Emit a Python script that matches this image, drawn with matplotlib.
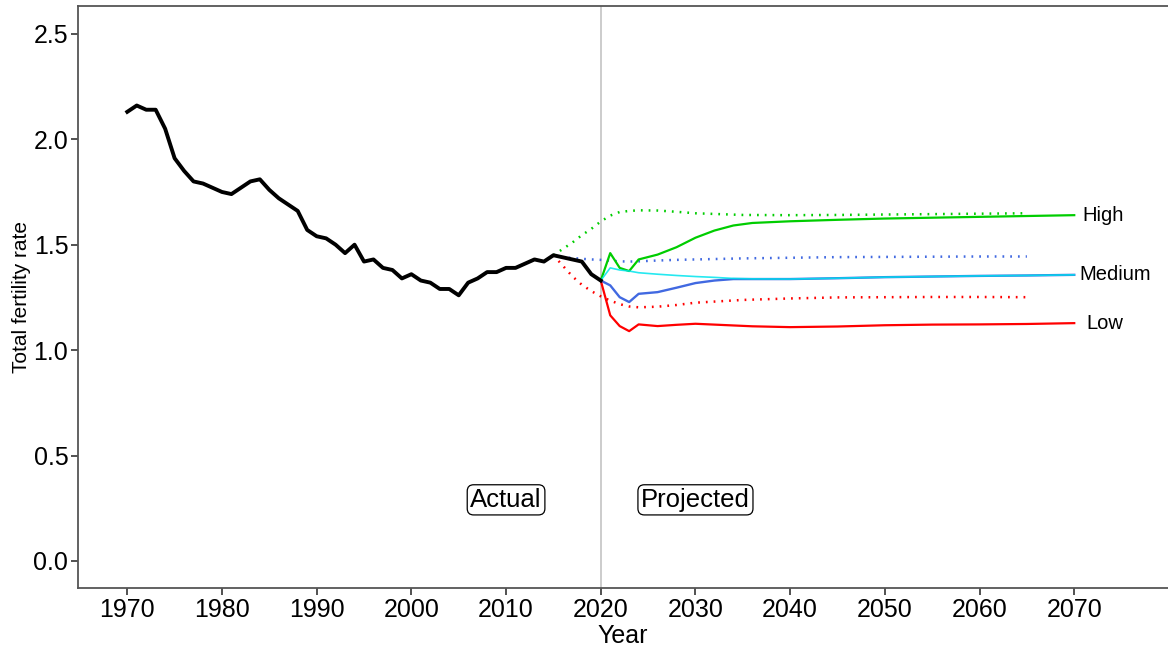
import numpy as np
import matplotlib
matplotlib.use("Agg")
import matplotlib.pyplot as plt

plt.rcParams['font.family'] = ['Liberation Sans', 'DejaVu Sans']

# actual total fertility rate
years_actual = list(range(1970, 2021))
tfr_actual = [2.13, 2.16, 2.14, 2.14, 2.05, 1.91, 1.85, 1.80, 1.79, 1.77,
              1.75, 1.74, 1.77, 1.80, 1.81, 1.76, 1.72, 1.69, 1.66, 1.57,
              1.54, 1.53, 1.50, 1.46, 1.50, 1.42, 1.43, 1.39, 1.38, 1.34,
              1.36, 1.33, 1.32, 1.29, 1.29, 1.26, 1.32, 1.34, 1.37, 1.37,
              1.39, 1.39, 1.41, 1.43, 1.42, 1.45, 1.44, 1.43, 1.42, 1.36,
              1.33]

# new projections (solid), 2020-2070
years_proj = [2020, 2021, 2022, 2023, 2024, 2026, 2028, 2030, 2032, 2034,
              2036, 2040, 2045, 2050, 2055, 2060, 2065, 2070]
high_proj = [1.33, 1.46, 1.39, 1.375, 1.43, 1.453, 1.488, 1.533, 1.567, 1.591,
             1.603, 1.611, 1.618, 1.624, 1.628, 1.632, 1.636, 1.64]
medium_proj = [1.33, 1.307, 1.251, 1.228, 1.267, 1.275, 1.296, 1.318, 1.330, 1.337,
               1.337, 1.337, 1.341, 1.346, 1.349, 1.352, 1.354, 1.357]
medium2_proj = [1.33, 1.39, 1.38, 1.375, 1.367, 1.36, 1.354, 1.349, 1.345, 1.340,
                1.338, 1.337, 1.341, 1.346, 1.349, 1.352, 1.354, 1.357]
low_proj = [1.33, 1.165, 1.114, 1.09, 1.122, 1.114, 1.12, 1.125, 1.121, 1.117,
            1.113, 1.109, 1.112, 1.118, 1.121, 1.122, 1.124, 1.128]

# previous projections (dotted), 2015-2065
years_old = [2015, 2016, 2017, 2018, 2019, 2020, 2021, 2022, 2023, 2024,
             2026, 2028, 2030, 2035, 2040, 2045, 2050, 2055, 2060, 2065]
high_old = [1.45, 1.48, 1.51, 1.545, 1.575, 1.61, 1.638, 1.655, 1.66, 1.663,
            1.662, 1.656, 1.649, 1.641, 1.64, 1.641, 1.643, 1.645, 1.647, 1.649]
medium_old = [1.45, 1.44, 1.437, 1.433, 1.43, 1.428, 1.424, 1.421, 1.42, 1.421,
              1.425, 1.428, 1.43, 1.435, 1.438, 1.441, 1.442, 1.443, 1.444, 1.444]
low_old = [1.45, 1.40, 1.35, 1.31, 1.28, 1.255, 1.235, 1.218, 1.207, 1.203,
           1.206, 1.214, 1.225, 1.238, 1.245, 1.25, 1.251, 1.252, 1.252, 1.251]

green = '#00cd00'
blue = '#4169e1'
cyan = '#00e5ee'
red = '#ff0000'

fig = plt.figure(figsize=(11.68, 6.5), dpi=100)
ax = fig.add_axes([0.0668, 0.0954, 0.9332, 0.8954])

ax.axvline(2020, color='#c8c8c8', lw=1.3, zorder=1)

# dotted (previous)
dots = (0, (0.7, 2.4))
ax.plot(years_old, high_old, color=green, lw=1.8, ls=dots, zorder=2)
ax.plot(years_old, medium_old, color=blue, lw=1.8, ls=dots, zorder=2)
ax.plot(years_old, low_old, color=red, lw=1.8, ls=dots, zorder=2)

# solid (new)
ax.plot(years_proj, high_proj, color=green, lw=1.6, zorder=3)
ax.plot(years_proj, medium_proj, color=blue, lw=1.7, zorder=3)
ax.plot(years_proj, medium2_proj, color=cyan, lw=1.2, alpha=0.85, zorder=3)
ax.plot(years_proj, low_proj, color=red, lw=1.6, zorder=3)

ax.plot(years_actual, tfr_actual, color='black', lw=2.8, zorder=4)

# series labels
ax.text(2070.85, high_proj[-1], 'High', fontsize=14.5, va='center', ha='left')
ax.text(2070.5, medium_proj[-1], 'Medium', fontsize=14.5, va='center', ha='left')
ax.text(2071.3, low_proj[-1], 'Low', fontsize=14.5, va='center', ha='left')

box = dict(boxstyle='round,pad=0.12,rounding_size=0.25', fc='white', ec='black', lw=0.9)
ax.text(2010, 0.29, 'Actual', fontsize=18.5, ha='center', va='center', bbox=box)
ax.text(2030, 0.29, 'Projected', fontsize=18.5, ha='center', va='center', bbox=box)

ax.set_xlim(1964.8, 2079.9)
ax.set_ylim(-0.128, 2.632)
ax.set_xticks(range(1970, 2071, 10))
ax.set_yticks([0.0, 0.5, 1.0, 1.5, 2.0, 2.5])
ax.set_yticklabels(['0.0', '0.5', '1.0', '1.5', '2.0', '2.5'])

for side in ['left', 'bottom', 'top']:
    ax.spines[side].set_color('#555555')
    ax.spines[side].set_linewidth(1.3)
ax.spines['right'].set_visible(False)

ax.tick_params(axis='both', labelsize=18, length=5, width=1.2, color='#333333', pad=2)
ax.set_xlabel('Year', fontsize=18, labelpad=2)
ax.set_ylabel('Total fertility rate', fontsize=15, labelpad=2)

fig.savefig('out.png', dpi=100)
